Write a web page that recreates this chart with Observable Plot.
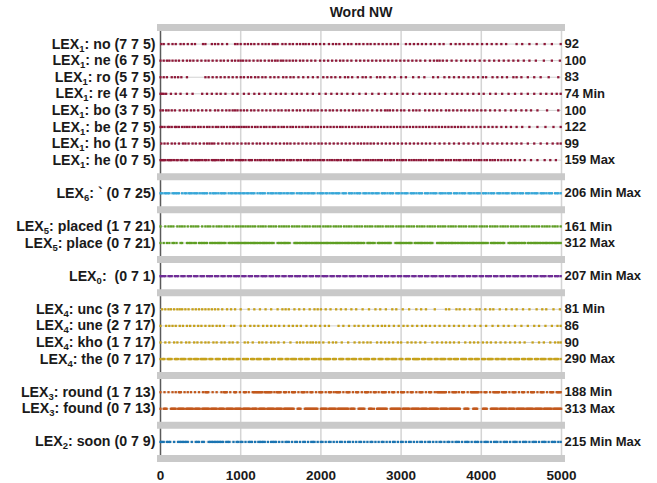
<!DOCTYPE html>
<html>
<head>
<meta charset="utf-8">
<script src="https://cdn.jsdelivr.net/npm/d3@7"></script>
<script src="https://cdn.jsdelivr.net/npm/@observablehq/plot@0.6"></script>
<style>
  html, body { margin: 0; padding: 0; background: #fff; }
  #chart svg { display: block; }
</style>
</head>
<body>
<div id="chart"></div>
<script>
// ---------- data ----------
const chartTitle = "Word NW";
const lexIds = [1, 1, 1, 1, 1, 1, 1, 1, 6, 5, 5, 0, 4, 4, 4, 4, 3, 3, 2];
const words  = ["no", "ne", "ro", "re", "bo", "be", "ho", "he", "`", "placed", "place", "", "unc", "une", "kho", "the", "round", "found", "soon"];
const codes  = ["7 7 5", "6 7 5", "5 7 5", "4 7 5", "3 7 5", "2 7 5", "1 7 5", "0 7 5", "0 7 25", "1 7 21", "0 7 21", "0 7 1", "3 7 17", "2 7 17", "1 7 17", "0 7 17", "1 7 13", "0 7 13", "0 7 9"];
const counts = [92, 100, 83, 74, 100, 122, 99, 159, 206, 161, 312, 207, 81, 86, 90, 290, 188, 313, 215];
const notes  = ["", "", "", "Min", "", "", "", "Max", "Min Max", "Min", "Max", "Min Max", "Min", "", "", "Max", "Min", "Max", "Min Max"];
const xTicks = [0, 1000, 2000, 3000, 4000, 5000];

const ev_no = [10,40,100,150,190,250,290,340,390,430,530,560,640,680,720,770,830,930,960,1000,1050,1090,1130,1170,1220,1270,1310,1350,1400,1430,1460,1520,1560,1610,1650,1700,1740,1780,1810,1850,1900,1940,1990,2040,2100,2150,2190,2230,2290,2340,2380,2440,2480,2530,2580,2620,2670,2720,2770,2820,2870,2920,2960,3060,3110,3160,3210,3260,3310,3370,3420,3480,3530,3620,3680,3730,3780,3840,3890,3950,4010,4070,4130,4190,4250,4310,4440,4510,4600,4690,4790,4880,4990];
const ev_ne = [0,40,80,110,150,190,230,280,330,370,410,460,510,560,600,650,700,750,790,840,890,930,970,1000,1030,1070,1110,1160,1210,1250,1300,1350,1390,1430,1460,1500,1530,1570,1610,1650,1690,1740,1780,1830,1880,1930,1990,2040,2090,2140,2190,2240,2280,2330,2380,2440,2490,2540,2590,2640,2690,2740,2790,2840,2890,2940,2990,3040,3090,3140,3190,3240,3300,3360,3410,3450,3480,3520,3570,3630,3690,3750,3810,3860,3920,3980,4040,4100,4160,4220,4280,4340,4400,4460,4530,4600,4680,4780,4880,4980];
const ev_ro = [0,40,80,140,180,220,260,330,560,600,650,700,750,800,850,900,950,1000,1040,1090,1130,1180,1220,1270,1310,1370,1420,1470,1530,1570,1620,1660,1720,1780,1840,1900,1960,2030,2080,2130,2180,2240,2300,2340,2390,2460,2520,2560,2620,2700,2740,2790,2860,2920,3000,3060,3150,3220,3290,3400,3460,3540,3600,3660,3720,3780,3840,3900,3960,4020,4060,4140,4200,4260,4320,4400,4440,4500,4580,4660,4740,4840,4960];
const ev_re = [0,20,40,70,130,190,250,330,400,520,580,640,700,750,810,900,960,1040,1100,1170,1230,1300,1370,1440,1500,1560,1640,1700,1760,1830,1900,1980,2060,2130,2200,2260,2330,2400,2480,2560,2640,2720,2800,2880,2950,3020,3080,3150,3230,3300,3360,3420,3480,3560,3640,3700,3760,3830,3900,3970,4030,4110,4180,4260,4340,4420,4500,4580,4660,4740,4810,4880,4940,4990];
const ev_bo = [0,30,70,100,140,180,240,290,330,380,420,470,520,570,620,680,720,770,820,860,900,930,960,1000,1040,1080,1130,1170,1220,1270,1320,1370,1420,1470,1510,1560,1600,1650,1700,1740,1790,1840,1880,1920,1960,2010,2060,2110,2150,2200,2250,2300,2350,2400,2440,2480,2530,2580,2640,2700,2750,2800,2830,2860,2900,2950,3000,3040,3100,3150,3190,3230,3300,3350,3400,3450,3500,3560,3600,3650,3700,3750,3800,3850,3900,3950,4000,4050,4110,4170,4230,4300,4370,4430,4500,4560,4620,4700,4820,4960];
const ev_be = [0,20,50,90,110,140,180,200,230,270,300,330,360,400,430,470,500,540,580,610,650,690,720,760,790,830,870,900,920,950,980,1010,1040,1070,1100,1140,1180,1210,1250,1290,1320,1360,1400,1430,1470,1510,1540,1580,1620,1650,1690,1730,1770,1810,1840,1880,1920,1960,2000,2040,2080,2120,2160,2200,2240,2270,2310,2350,2390,2430,2470,2510,2550,2590,2630,2670,2710,2750,2790,2830,2870,2910,2950,2990,3030,3070,3110,3150,3190,3230,3270,3310,3350,3390,3430,3470,3510,3550,3590,3630,3670,3710,3750,3790,3840,3890,3940,3990,4040,4090,4140,4190,4250,4310,4370,4440,4510,4600,4700,4800,4900,4990];
const ev_ho = [10,50,90,140,180,230,280,310,350,400,440,490,540,580,610,640,670,720,770,820,860,910,960,1010,1060,1100,1150,1200,1240,1290,1340,1390,1440,1490,1540,1580,1620,1670,1720,1770,1820,1870,1920,1970,2010,2060,2110,2160,2210,2260,2310,2360,2410,2460,2500,2540,2580,2620,2660,2710,2760,2810,2860,2910,2960,3010,3060,3110,3160,3210,3260,3310,3360,3420,3480,3540,3600,3660,3720,3780,3840,3900,3960,4020,4080,4140,4200,4260,4320,4380,4440,4500,4580,4660,4740,4820,4890,4950,4990];
const ev_he = [0,15,30,45,60,90,110,125,140,170,200,215,250,270,300,320,335,380,400,430,450,470,490,520,550,570,600,640,660,675,690,720,750,770,790,830,860,880,900,940,970,990,1010,1030,1060,1100,1120,1140,1180,1210,1240,1260,1290,1320,1350,1370,1400,1440,1460,1490,1520,1540,1580,1610,1630,1660,1700,1720,1750,1790,1820,1840,1870,1900,1930,1960,1990,2020,2040,2080,2110,2140,2170,2200,2220,2250,2290,2320,2340,2370,2410,2440,2460,2490,2530,2560,2590,2620,2650,2680,2710,2740,2760,2800,2830,2860,2880,2910,2950,2980,3010,3030,3060,3100,3130,3160,3190,3220,3250,3280,3310,3350,3370,3400,3440,3470,3500,3520,3560,3590,3620,3660,3690,3720,3740,3780,3810,3840,3870,3910,3940,3970,4000,4040,4070,4110,4140,4170,4210,4250,4290,4330,4370,4420,4480,4540,4620,4700,4790,4860,4930];
const ev_tick = [0,20,50,70,90,110,150,170,190,210,230,270,300,320,350,370,390,420,440,460,490,520,540,560,580,620,650,670,690,720,750,770,790,810,850,880,900,930,950,980,1000,1030,1050,1080,1100,1130,1150,1170,1210,1240,1260,1280,1300,1340,1370,1390,1410,1440,1470,1490,1510,1540,1570,1590,1620,1640,1660,1700,1730,1750,1770,1800,1830,1850,1880,1900,1920,1960,1990,2010,2030,2060,2080,2110,2140,2160,2190,2210,2230,2270,2290,2310,2350,2370,2390,2420,2450,2470,2490,2530,2550,2570,2600,2630,2650,2680,2700,2720,2760,2780,2800,2830,2860,2880,2900,2940,2960,2980,3010,3040,3060,3080,3120,3140,3160,3190,3220,3240,3260,3300,3320,3340,3370,3400,3420,3440,3480,3500,3520,3550,3580,3600,3620,3660,3680,3700,3730,3760,3780,3800,3840,3860,3880,3910,3940,3960,3980,4020,4040,4060,4090,4120,4140,4160,4200,4220,4240,4270,4300,4320,4340,4380,4400,4420,4450,4480,4500,4520,4560,4580,4600,4630,4660,4680,4700,4740,4760,4780,4810,4840,4860,4880,4920,4940,4960,4990];
const ev_placed = [0,60,100,130,160,210,240,270,300,340,380,410,440,470,520,560,590,620,660,700,730,760,800,830,860,900,940,970,1000,1030,1060,1090,1120,1150,1180,1220,1250,1280,1310,1350,1380,1410,1440,1480,1510,1540,1570,1600,1640,1670,1700,1730,1770,1800,1830,1860,1900,1930,1960,1990,2030,2060,2090,2120,2160,2190,2220,2250,2290,2320,2350,2380,2420,2450,2480,2510,2550,2580,2610,2640,2680,2710,2740,2770,2810,2840,2870,2900,2940,2970,3000,3030,3070,3100,3130,3160,3200,3230,3260,3290,3330,3360,3390,3420,3460,3490,3520,3550,3590,3620,3650,3680,3720,3750,3780,3810,3850,3880,3910,3940,3980,4010,4040,4070,4110,4140,4170,4200,4240,4270,4300,4330,4370,4400,4430,4460,4500,4530,4560,4590,4630,4660,4690,4720,4760,4790,4820,4850,4890,4920,4950,4990];
const ev_place = [0,40,80,110,150,170,200,250,270,330,350,370,390,420,440,480,500,520,540,560,580,620,640,660,680,700,720,735,750,770,790,810,850,870,890,910,930,950,965,980,1000,1020,1040,1055,1070,1090,1110,1130,1150,1165,1180,1200,1220,1240,1260,1280,1295,1310,1330,1350,1370,1390,1410,1460,1480,1500,1520,1540,1555,1570,1590,1610,1670,1685,1700,1720,1740,1760,1780,1800,1815,1830,1850,1870,1890,1910,1930,1945,1960,1980,2000,2020,2040,2060,2075,2090,2110,2130,2150,2170,2190,2205,2220,2240,2260,2280,2300,2320,2335,2350,2370,2390,2410,2430,2450,2465,2480,2500,2520,2540,2580,2595,2610,2630,2650,2670,2710,2725,2740,2760,2780,2800,2820,2840,2855,2870,2930,2950,2970,2985,3000,3020,3040,3060,3080,3100,3115,3130,3170,3190,3210,3230,3245,3260,3280,3300,3320,3340,3360,3375,3390,3450,3470,3490,3505,3520,3540,3560,3580,3600,3620,3635,3650,3670,3690,3710,3730,3750,3765,3780,3800,3820,3840,3860,3880,3895,3910,3930,3950,3970,3990,4010,4025,4040,4060,4080,4120,4140,4155,4170,4190,4210,4230,4250,4270,4285,4340,4360,4380,4400,4415,4430,4450,4470,4490,4510,4530,4545,4580,4600,4620,4640,4660,4675,4690,4710,4730,4750,4770,4790,4805,4820,4840,4860,4880,4900,4920,4935,4950,4970,4990];
const ev_lex0 = [0,20,40,60,100,120,140,180,200,220,260,280,300,340,360,380,420,440,460,500,520,540,580,600,620,640,680,700,720,760,780,800,840,860,880,920,940,960,980,1020,1040,1060,1100,1120,1140,1180,1200,1220,1260,1280,1300,1320,1360,1380,1400,1440,1460,1480,1520,1540,1560,1600,1620,1640,1680,1700,1720,1740,1780,1800,1820,1860,1880,1900,1940,1960,1980,2020,2040,2060,2080,2120,2140,2160,2200,2220,2240,2280,2300,2320,2360,2380,2400,2420,2460,2480,2500,2540,2560,2580,2620,2640,2660,2700,2720,2740,2760,2800,2820,2840,2880,2900,2920,2960,2980,3000,3040,3060,3080,3100,3140,3160,3180,3220,3240,3260,3300,3320,3340,3380,3400,3420,3440,3480,3500,3520,3560,3580,3600,3640,3660,3680,3720,3740,3760,3780,3820,3840,3860,3900,3920,3940,3980,4000,4020,4060,4080,4100,4120,4160,4180,4200,4240,4260,4280,4320,4340,4360,4400,4420,4440,4460,4500,4520,4540,4580,4600,4620,4660,4680,4700,4740,4760,4780,4800,4840,4860,4880,4920,4940,4960,4990];
const ev_unc = [20,60,100,130,170,210,240,270,310,350,400,440,480,520,560,600,640,680,720,770,830,880,930,1000,1100,1170,1240,1310,1380,1460,1520,1560,1600,1670,1730,1790,1860,1920,1960,2000,2060,2120,2190,2250,2310,2380,2440,2520,2600,2680,2740,2810,2890,2940,3020,3100,3190,3250,3310,3420,3560,3600,3690,3730,3790,3860,3940,3980,4050,4110,4150,4230,4310,4380,4440,4520,4600,4690,4760,4810,4900,4980];
const ev_une = [0,70,110,150,190,240,280,330,370,420,470,510,560,610,650,700,740,790,880,920,1000,1050,1120,1170,1220,1280,1330,1380,1430,1480,1540,1600,1650,1700,1750,1820,1880,1930,1990,2050,2100,2220,2280,2350,2420,2470,2530,2590,2650,2710,2760,2800,2850,2910,2970,3030,3080,3140,3200,3260,3310,3360,3420,3480,3540,3600,3660,3720,3780,3850,3920,3990,4060,4140,4210,4280,4340,4420,4500,4580,4660,4720,4800,4880,4950,4990];
const ev_kho = [0,60,110,170,210,260,320,360,420,460,510,560,600,660,700,760,800,860,900,960,1050,1090,1150,1230,1270,1320,1380,1420,1470,1540,1620,1700,1740,1780,1830,1870,1900,1940,1980,2030,2100,2150,2190,2260,2340,2420,2480,2530,2580,2620,2700,2750,2800,2850,2900,2960,3000,3080,3130,3180,3240,3300,3390,3450,3510,3560,3610,3660,3720,3800,3860,3910,3960,4020,4070,4120,4180,4240,4300,4360,4420,4480,4540,4640,4720,4780,4860,4920,4960,4990];
const ev_the = [0,25,37,49,90,102,114,126,138,180,192,204,216,250,262,274,286,298,310,350,362,374,386,420,432,444,456,468,500,512,524,536,548,560,572,610,622,634,646,690,702,714,726,738,780,792,804,816,850,862,874,886,898,910,950,962,974,986,1030,1042,1054,1066,1078,1090,1130,1142,1154,1166,1200,1212,1224,1236,1248,1290,1302,1314,1326,1338,1350,1390,1402,1414,1426,1470,1482,1494,1506,1518,1560,1572,1584,1596,1630,1642,1654,1666,1678,1690,1730,1742,1754,1766,1800,1812,1824,1836,1848,1890,1902,1914,1926,1938,1970,1982,1994,2006,2040,2052,2064,2076,2088,2100,2112,2150,2162,2174,2186,2230,2242,2254,2266,2278,2320,2332,2344,2356,2390,2402,2414,2426,2438,2480,2492,2504,2540,2552,2564,2576,2588,2600,2640,2652,2664,2676,2720,2732,2744,2756,2768,2810,2822,2834,2846,2880,2892,2904,2916,2928,2940,2980,2992,3004,3016,3060,3072,3084,3096,3108,3150,3162,3174,3186,3198,3210,3222,3260,3272,3284,3296,3330,3342,3354,3366,3378,3420,3432,3444,3456,3490,3502,3514,3526,3538,3550,3590,3602,3614,3626,3660,3672,3684,3696,3708,3750,3762,3774,3786,3798,3810,3850,3862,3874,3886,3920,3932,3944,3956,3968,4010,4022,4034,4046,4080,4092,4104,4116,4128,4140,4180,4192,4204,4216,4250,4262,4274,4286,4298,4340,4352,4364,4376,4410,4422,4434,4446,4458,4470,4510,4522,4534,4546,4580,4592,4604,4616,4628,4670,4682,4694,4706,4740,4752,4764,4776,4788,4800,4840,4852,4864,4876,4910,4922,4934,4946,4958,4990];
const ev_round = [0,50,100,150,190,230,242,254,300,340,380,430,480,530,560,572,584,596,650,700,760,790,802,814,826,870,920,930,942,990,1040,1052,1064,1100,1150,1162,1174,1186,1198,1210,1222,1234,1246,1258,1270,1300,1312,1324,1336,1348,1360,1372,1384,1420,1450,1462,1474,1486,1498,1540,1552,1564,1600,1640,1652,1664,1676,1720,1760,1772,1784,1796,1830,1870,1882,1894,1940,1980,1992,2004,2016,2060,2100,2112,2124,2160,2190,2202,2214,2226,2238,2280,2320,2332,2344,2356,2400,2440,2452,2464,2510,2550,2562,2574,2586,2620,2660,2672,2684,2720,2760,2772,2784,2796,2808,2850,2890,2902,2914,2960,3000,3012,3024,3036,3080,3120,3132,3144,3190,3230,3242,3254,3266,3310,3350,3362,3374,3420,3450,3462,3474,3486,3498,3510,3522,3534,3546,3558,3600,3640,3652,3664,3676,3688,3720,3760,3772,3784,3830,3870,3882,3894,3906,3918,3930,3942,3954,3966,4000,4040,4052,4064,4110,4150,4162,4174,4186,4198,4210,4222,4260,4272,4284,4296,4308,4350,4390,4402,4414,4426,4470,4510,4522,4534,4580,4620,4632,4644,4656,4700,4740,4752,4764,4776,4820,4860,4872,4884,4896,4940,4952,4964,4976,4990];
const ev_found = [0,40,52,64,76,130,142,154,166,178,190,220,232,244,256,268,280,292,320,332,344,356,368,380,392,404,430,442,454,466,478,490,520,532,544,556,568,580,592,604,630,642,654,666,678,690,702,730,742,754,766,778,790,820,832,844,856,868,880,892,904,930,942,954,966,978,990,1002,1030,1042,1054,1066,1078,1090,1102,1114,1140,1152,1164,1176,1188,1200,1230,1242,1254,1266,1278,1290,1302,1330,1342,1354,1366,1378,1390,1402,1414,1440,1452,1464,1476,1488,1500,1512,1540,1552,1564,1576,1588,1600,1612,1624,1636,1648,1660,1710,1722,1734,1746,1800,1812,1824,1836,1848,1860,1872,1884,1896,1908,1920,1932,1944,1956,2000,2012,2024,2036,2048,2060,2072,2100,2112,2124,2136,2148,2160,2172,2184,2210,2222,2234,2246,2258,2270,2282,2294,2306,2318,2330,2342,2370,2382,2394,2406,2418,2470,2482,2494,2506,2518,2530,2542,2600,2612,2624,2636,2660,2700,2712,2724,2736,2748,2760,2772,2784,2796,2808,2820,2870,2882,2894,2906,2918,2930,2942,2954,2966,2978,2990,3020,3032,3044,3056,3068,3080,3092,3104,3130,3142,3154,3166,3178,3190,3202,3214,3226,3250,3262,3274,3286,3298,3310,3322,3350,3362,3374,3386,3398,3410,3422,3434,3446,3458,3490,3502,3514,3526,3538,3550,3562,3574,3600,3612,3624,3636,3648,3660,3672,3684,3696,3708,3720,3732,3790,3802,3814,3826,3838,3900,3912,3924,3936,3948,4020,4032,4044,4056,4068,4120,4132,4144,4156,4168,4180,4192,4204,4230,4242,4254,4266,4278,4290,4302,4314,4340,4352,4364,4376,4388,4400,4412,4440,4452,4464,4476,4488,4500,4512,4524,4536,4560,4572,4584,4596,4608,4620,4632,4644,4670,4682,4694,4706,4718,4730,4742,4754,4780,4792,4804,4816,4828,4840,4852,4864,4876,4900,4912,4924,4936,4948,4960,4972,4984,4996];
const ev_soon = [0,20,40,80,100,120,170,220,240,260,280,300,320,340,390,440,460,480,520,540,600,620,640,660,680,700,720,740,760,780,820,840,860,910,950,970,1000,1020,1060,1100,1120,1140,1180,1220,1240,1260,1280,1300,1340,1380,1400,1420,1440,1480,1520,1560,1580,1600,1640,1680,1700,1740,1780,1800,1840,1880,1900,1920,1960,2000,2020,2060,2100,2120,2160,2200,2240,2260,2300,2340,2360,2400,2440,2480,2500,2540,2580,2620,2640,2680,2720,2760,2780,2820,2860,2900,2920,2960,3000,3020,3060,3100,3120,3160,3200,3240,3260,3300,3340,3360,3400,3440,3480,3500,3540,3580,3600,3640,3680,3700,3720,3760,3800,3820,3840,3880,3920,3940,3960,4000,4040,4060,4080,4120,4160,4180,4200,4240,4280,4300,4320,4360,4400,4420,4440,4480,4520,4540,4560,4600,4640,4660,4680,4720,4760,4780,4800,4840,4880,4900,4920,4960,4990];

const events = [ev_no, ev_ne, ev_ro, ev_re, ev_bo, ev_be, ev_ho, ev_he, ev_tick, ev_placed, ev_place, ev_lex0, ev_unc, ev_une, ev_kho, ev_the, ev_round, ev_found, ev_soon];

// ---------- styles ----------
const lexColor = {1: "#8E1838", 6: "#35A6D8", 5: "#5E9E22", 0: "#6F2C96", 4: "#C6A11A", 3: "#C2581C", 2: "#1A74B2"};
const FONT = "'Liberation Sans', Arial, Helvetica, sans-serif";

// ---------- layout: group separators between LEX groups ----------
let slot = 0;
const barSlots = [0];
const rowSlots = [];
lexIds.forEach((id, i) => {
  if (i > 0 && id !== lexIds[i - 1]) { slot++; barSlots.push(slot); }
  slot++; rowSlots.push(slot);
});
slot++; barSlots.push(slot);
const nSlots = slot;

const rows = lexIds.map((lex, i) => ({
  i, lex, word: words[i], code: codes[i], count: counts[i], note: notes[i], slot: rowSlots[i]
}));
const points = rows.flatMap(r => events[r.i].map(t => ({t, slot: r.slot, lex: r.lex})));

const svg = Plot.plot({
  width: 657,
  height: 483,
  marginTop: 27,
  marginBottom: 25,
  marginLeft: 160,
  marginRight: 96,
  x: {domain: [xTicks[0], xTicks[xTicks.length - 1]], label: null},
  y: {domain: [0, nSlots], reverse: true, axis: null},
  color: {type: "identity"},
  style: {fontFamily: FONT, background: "#fff", overflow: "visible"},
  marks: [
    Plot.ruleX(xTicks.slice(1), {stroke: "#d4d4d4", strokeWidth: 1.5}),
    Plot.ruleX([xTicks[0]], {stroke: "#5a5a5a", strokeWidth: 1.5}),
    Plot.ruleY(rows, {y: "slot", stroke: "#d2d2d2", strokeWidth: 1}),
    Plot.ruleY(barSlots, {stroke: "#c9c9c9", strokeWidth: 7, insetLeft: -3, insetRight: -4}),
    Plot.dot(points, {x: "t", y: "slot", fill: d => lexColor[d.lex], symbol: "square", r: 1.3, stroke: null}),
    Plot.text(rows, {
      y: "slot", frameAnchor: "left", dx: -5, textAnchor: "end",
      text: d => `LEX${d.lex}: ${d.word} (${d.code})`,
      fontSize: 14.2, fontWeight: "bold", fill: "#1a1a1a", className: "lexlabel"
    }),
    Plot.text(rows, {
      y: "slot", frameAnchor: "right", dx: 3, textAnchor: "start",
      text: d => d.note ? `${d.count} ${d.note}` : `${d.count}`,
      fontSize: 13, fontWeight: "bold", fill: "#1a1a1a"
    }),
    Plot.text([chartTitle], {
      text: d => d, frameAnchor: "top", lineAnchor: "middle", dy: -15,
      fontSize: 14, fontWeight: "bold", fill: "#1a1a1a"
    }),
    Plot.axisX({
      ticks: xTicks, tickSize: 0, tickPadding: 12, tickFormat: d => String(d), label: null,
      fontSize: 13.5, fontWeight: "bold", fill: "#1a1a1a"
    })
  ]
});

// Rewrite left labels with a real subscript on the LEX index
const NS = "http://www.w3.org/2000/svg";
svg.querySelectorAll("g.lexlabel text").forEach((el, k) => {
  const r = rows[k];
  while (el.firstChild) el.removeChild(el.firstChild);
  el.setAttribute("style", "white-space: pre");
  const a = document.createElementNS(NS, "tspan");
  a.textContent = "LEX";
  const b = document.createElementNS(NS, "tspan");
  b.setAttribute("dy", "3");
  b.setAttribute("font-size", "9.5");
  b.textContent = String(r.lex);
  const c = document.createElementNS(NS, "tspan");
  c.setAttribute("dy", "-3");
  c.textContent = `: ${r.word} (${r.code})`;
  el.append(a, b, c);
});

document.getElementById("chart").append(svg);
</script>
</body>
</html>
